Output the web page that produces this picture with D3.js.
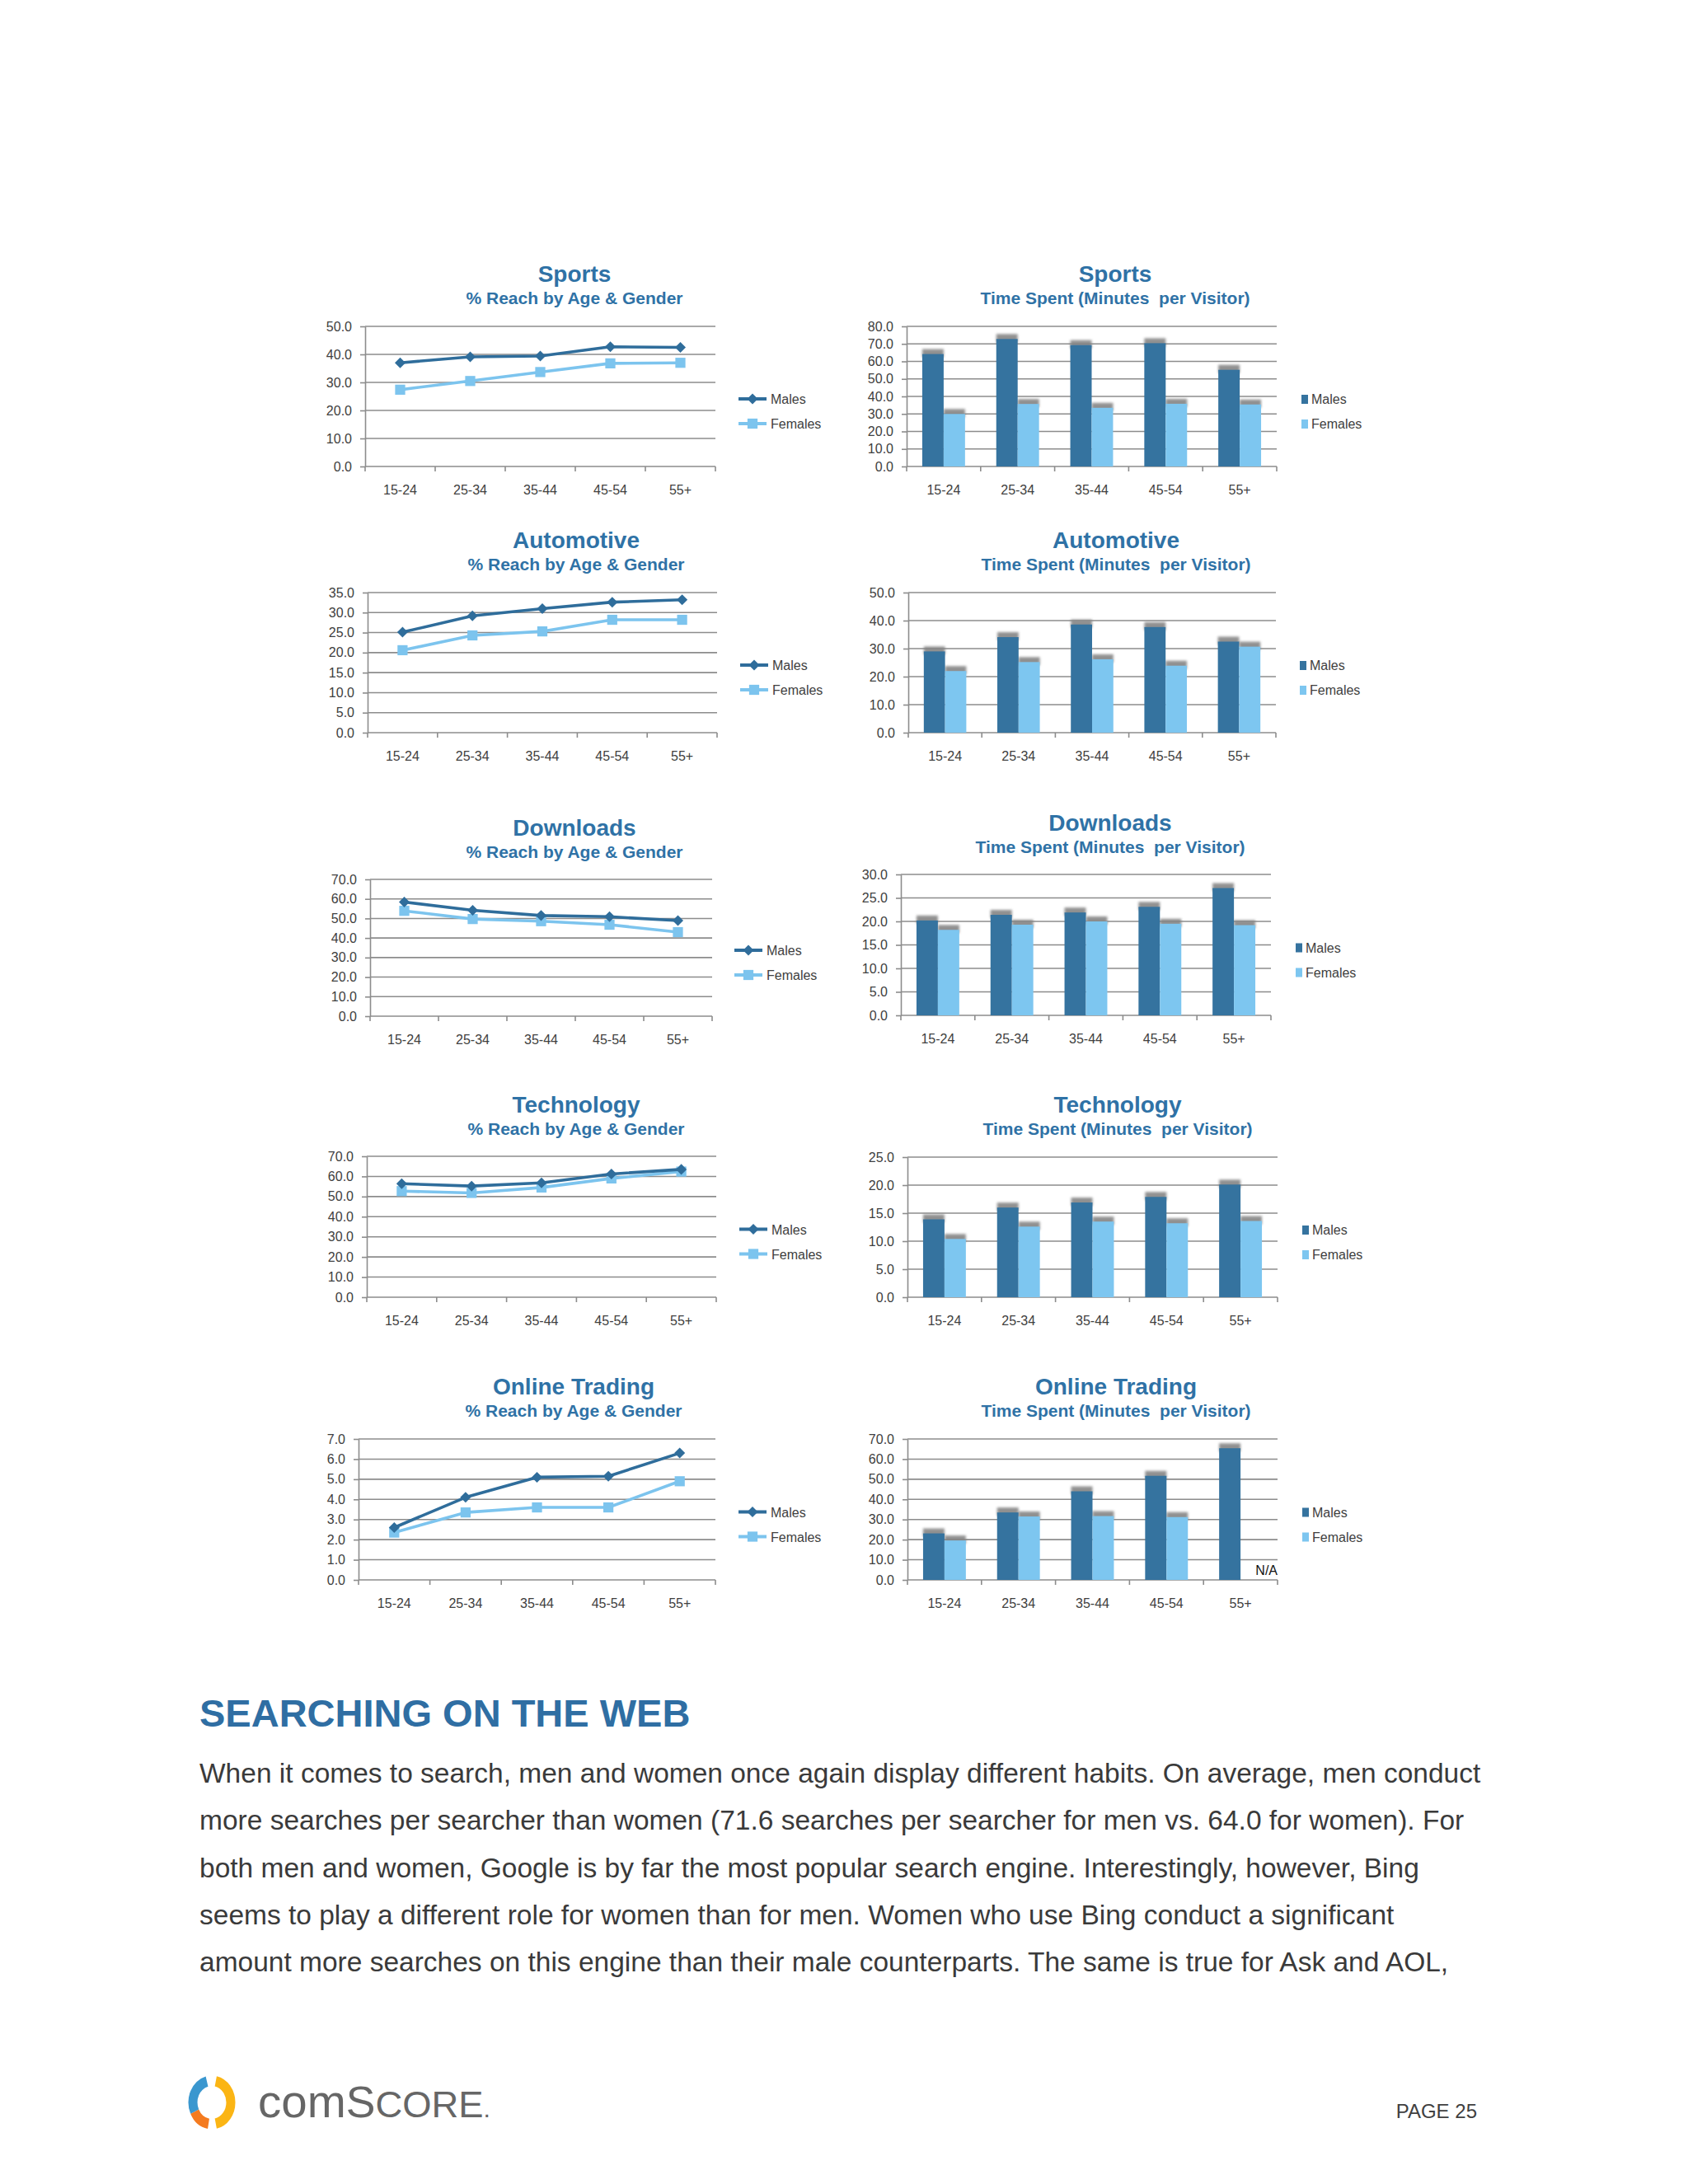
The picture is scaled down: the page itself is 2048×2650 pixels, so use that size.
<html>
<head>
<meta charset="utf-8">
<style>
  body { margin: 0; background: #fff; }
  text { font-family: "Liberation Sans", Arial, sans-serif; }
</style>
</head>
<body>
<script src="https://d3js.org/d3.v7.min.js" charset="utf-8"></script>
<script type="text/javascript">

// categories
var ageGroups = ["15-24", "25-34", "35-44", "45-54", "55+"];
var seriesNames = ["Males", "Females"];
var categoryTitles = ["Sports", "Automotive", "Downloads", "Technology", "Online Trading"];
var reachSubtitle = "% Reach by Age & Gender";
var timeSubtitle = "Time Spent (Minutes  per Visitor)";

// % reach by age & gender
var sportsReachMales      = [37.0, 39.1, 39.4, 42.7, 42.5];
var sportsReachFemales    = [27.4, 30.5, 33.7, 36.8, 37.0];
var autoReachMales        = [25.1, 29.2, 31.0, 32.6, 33.2];
var autoReachFemales      = [20.6, 24.3, 25.3, 28.2, 28.2];
var downloadsReachMales   = [58.4, 54.2, 51.5, 50.9, 48.9];
var downloadsReachFemales = [53.9, 49.7, 48.6, 46.8, 43.0];
var techReachMales        = [56.4, 55.2, 56.8, 61.2, 63.5];
var techReachFemales      = [52.7, 51.8, 54.5, 59.0, 62.4];
var tradingReachMales     = [2.6, 4.1, 5.1, 5.15, 6.3];
var tradingReachFemales   = [2.35, 3.35, 3.6, 3.6, 4.9];

// time spent (minutes per visitor)
var sportsTimeMales      = [64.2, 72.8, 69.3, 70.4, 55.2];
var sportsTimeFemales    = [30.0, 35.7, 33.5, 35.8, 35.4];
var autoTimeMales        = [29.0, 34.1, 38.6, 37.7, 32.5];
var autoTimeFemales      = [22.0, 25.2, 26.2, 23.9, 30.7];
var downloadsTimeMales   = [20.2, 21.4, 21.9, 23.1, 27.1];
var downloadsTimeFemales = [18.2, 19.3, 20.0, 19.5, 19.2];
var techTimeMales        = [13.9, 16.0, 16.9, 17.9, 20.1];
var techTimeFemales      = [10.4, 12.6, 13.5, 13.2, 13.6];
var tradingTimeMales     = [23.1, 33.5, 44.0, 51.7, 65.4];
var tradingTimeFemales   = [19.6, 31.5, 31.7, 31.2, null];   // 55+ is N/A

// y tick values
var sportsReachTicks    = [0, 10, 20, 30, 40, 50];
var autoReachTicks      = [0, 5, 10, 15, 20, 25, 30, 35];
var downloadsReachTicks = [0, 10, 20, 30, 40, 50, 60, 70];
var techReachTicks      = [0, 10, 20, 30, 40, 50, 60, 70];
var tradingReachTicks   = [0, 1, 2, 3, 4, 5, 6, 7];
var sportsTimeTicks     = [0, 10, 20, 30, 40, 50, 60, 70, 80];
var autoTimeTicks       = [0, 10, 20, 30, 40, 50];
var downloadsTimeTicks  = [0, 5, 10, 15, 20, 25, 30];
var techTimeTicks       = [0, 5, 10, 15, 20, 25];
var tradingTimeTicks    = [0, 10, 20, 30, 40, 50, 60, 70];

// body text
var heading = "SEARCHING ON THE WEB";
var bodyLines = [
  "When it comes to search, men and women once again display different habits. On average, men conduct",
  "more searches per searcher than women (71.6 searches per searcher for men vs. 64.0 for women). For",
  "both men and women, Google is by far the most popular search engine. Interestingly, however, Bing",
  "seems to play a different role for women than for men. Women who use Bing conduct a significant",
  "amount more searches on this engine than their male counterparts. The same is true for Ask and AOL,"
];

// colours
var maleColor = "#2f6d9b", femaleColor = "#7cc4ee";
var maleBar = "#35739f", femaleBar = "#7dc6f0";
var titleColor = "#2f72a6", gridColor = "#8c8c8c", labelColor = "#404040";

// layout of each panel (positions only)
var reachCharts = [
  {m: sportsReachMales, f: sportsReachFemales, ticks: sportsReachTicks, l: 443, r: 868, t: 396, b: 566, tx: 697, ty: 342, lx: 896},
  {m: autoReachMales, f: autoReachFemales, ticks: autoReachTicks, l: 446, r: 870, t: 719, b: 889, tx: 699, ty: 665, lx: 898},
  {m: downloadsReachMales, f: downloadsReachFemales, ticks: downloadsReachTicks, l: 449, r: 864, t: 1067, b: 1233, tx: 697, ty: 1014, lx: 891},
  {m: techReachMales, f: techReachFemales, ticks: techReachTicks, l: 445, r: 869, t: 1403, b: 1574, tx: 699, ty: 1350, lx: 897},
  {m: tradingReachMales, f: tradingReachFemales, ticks: tradingReachTicks, l: 435, r: 868, t: 1746, b: 1917, tx: 696, ty: 1692, lx: 896}
];
var timeCharts = [
  {m: sportsTimeMales, f: sportsTimeFemales, ticks: sportsTimeTicks, l: 1100, r: 1549, t: 396, b: 566, tx: 1353, ty: 342, lx: 1579},
  {m: autoTimeMales, f: autoTimeFemales, ticks: autoTimeTicks, l: 1102, r: 1548, t: 719, b: 889, tx: 1354, ty: 665, lx: 1577},
  {m: downloadsTimeMales, f: downloadsTimeFemales, ticks: downloadsTimeTicks, l: 1093, r: 1542, t: 1061, b: 1232, tx: 1347, ty: 1008, lx: 1572},
  {m: techTimeMales, f: techTimeFemales, ticks: techTimeTicks, l: 1101, r: 1550, t: 1404, b: 1574, tx: 1356, ty: 1350, lx: 1580},
  {m: tradingTimeMales, f: tradingTimeFemales, ticks: tradingTimeTicks, l: 1101, r: 1550, t: 1746, b: 1917, tx: 1354, ty: 1692, lx: 1580}
];

// page
var svg = d3.select("body").append("svg")
    .attr("width", 2048)
    .attr("height", 2650)
    .style("background", "#fff");

var defs = svg.append("defs");
defs.append("filter").attr("id", "soft")
    .attr("x", "-20%").attr("y", "-50%").attr("width", "140%").attr("height", "200%")
  .append("feGaussianBlur").attr("stdDeviation", 1.8);

var fmt = d3.format(".1f");

function drawTitles(c, i, sub) {
  svg.append("text")
      .attr("x", c.tx).attr("y", c.ty)
      .attr("text-anchor", "middle")
      .attr("font-size", 28).attr("font-weight", "bold")
      .attr("fill", titleColor)
      .text(categoryTitles[i]);
  svg.append("text")
      .attr("x", c.tx).attr("y", c.ty + 27)
      .attr("text-anchor", "middle")
      .attr("font-size", 21).attr("font-weight", "bold")
      .attr("fill", titleColor)
      .style("white-space", "pre")
      .text(sub);
}

function drawFrame(c, x, y) {
  // gridlines
  svg.append("g").selectAll("line")
      .data(c.ticks.filter(function(d) { return d > 0; }))
      .enter().append("line")
      .attr("x1", c.l).attr("x2", c.r)
      .attr("y1", function(d) { return y(d); })
      .attr("y2", function(d) { return y(d); })
      .attr("stroke", gridColor).attr("stroke-width", 1.6);

  // y axis
  var ya = svg.append("g")
      .attr("transform", "translate(" + c.l + ",0)")
      .call(d3.axisLeft(y).tickValues(c.ticks).tickFormat(fmt).tickSize(6).tickSizeOuter(0).tickPadding(10));
  ya.select(".domain").attr("stroke", gridColor).attr("stroke-width", 1.6);
  ya.selectAll(".tick line").attr("stroke", gridColor).attr("stroke-width", 1.6);
  ya.selectAll(".tick text").attr("font-size", 16).attr("fill", labelColor)
      .attr("font-family", "Liberation Sans, Arial, sans-serif");

  // x axis: base line, boundary ticks, centred labels
  svg.append("line")
      .attr("x1", c.l).attr("x2", c.r).attr("y1", c.b).attr("y2", c.b)
      .attr("stroke", gridColor).attr("stroke-width", 1.6);
  svg.append("g").selectAll("line")
      .data(d3.range(ageGroups.length + 1))
      .enter().append("line")
      .attr("x1", function(d) { return c.l + d * x.step(); })
      .attr("x2", function(d) { return c.l + d * x.step(); })
      .attr("y1", c.b).attr("y2", c.b + 6)
      .attr("stroke", gridColor).attr("stroke-width", 1.6);
  svg.append("g").selectAll("text")
      .data(ageGroups)
      .enter().append("text")
      .attr("x", function(d) { return x(d) + x.bandwidth() / 2; })
      .attr("y", c.b + 34)
      .attr("text-anchor", "middle")
      .attr("font-size", 16).attr("fill", labelColor)
      .text(function(d) { return d; });
}

// line charts
reachCharts.forEach(function(c, i) {
  drawTitles(c, i, reachSubtitle);

  var x = d3.scaleBand().domain(ageGroups).range([c.l, c.r]);
  var y = d3.scaleLinear().domain([0, d3.max(c.ticks)]).range([c.b, c.t]);
  drawFrame(c, x, y);

  var cx = function(d, j) { return x(ageGroups[j]) + x.bandwidth() / 2; };
  var line = d3.line().x(cx).y(function(d) { return y(d); });

  var series = [
    {vals: c.f, color: femaleColor, sym: d3.symbol(d3.symbolSquare, 150), rot: 0},
    {vals: c.m, color: maleColor, sym: d3.symbol(d3.symbolSquare, 85), rot: 45}
  ];
  series.forEach(function(s) {
    svg.append("path")
        .datum(s.vals)
        .attr("d", line)
        .attr("fill", "none")
        .attr("stroke", s.color)
        .attr("stroke-width", 3.6)
        .attr("stroke-linejoin", "round");
    svg.append("g").selectAll("path")
        .data(s.vals)
        .enter().append("path")
        .attr("d", s.sym)
        .attr("transform", function(d, j) { return "translate(" + cx(d, j) + "," + y(d) + ") rotate(" + s.rot + ")"; })
        .attr("fill", s.color);
  });

  // legend
  var mid = (c.t + c.b) / 2;
  [{n: seriesNames[0], color: maleColor, sym: d3.symbol(d3.symbolSquare, 85), rot: 45, yy: mid + 3},
   {n: seriesNames[1], color: femaleColor, sym: d3.symbol(d3.symbolSquare, 150), rot: 0, yy: mid + 33}]
    .forEach(function(e) {
      svg.append("line")
          .attr("x1", c.lx).attr("x2", c.lx + 34).attr("y1", e.yy).attr("y2", e.yy)
          .attr("stroke", e.color).attr("stroke-width", 4);
      svg.append("path")
          .attr("d", e.sym)
          .attr("transform", "translate(" + (c.lx + 17) + "," + e.yy + ") rotate(" + e.rot + ")")
          .attr("fill", e.color);
      svg.append("text")
          .attr("x", c.lx + 39).attr("y", e.yy + 6)
          .attr("font-size", 16).attr("fill", labelColor)
          .text(e.n);
    });
});

// bar charts
timeCharts.forEach(function(c, i) {
  drawTitles(c, i, timeSubtitle);

  var x = d3.scaleBand().domain(ageGroups).range([c.l, c.r]);
  var x1 = d3.scaleBand().domain(seriesNames).range([0, x.bandwidth()]).paddingOuter(0.73);
  var y = d3.scaleLinear().domain([0, d3.max(c.ticks)]).range([c.b, c.t]);
  drawFrame(c, x, y);

  var rows = ageGroups.map(function(a, j) {
    return [{age: a, s: "Males", v: c.m[j]}, {age: a, s: "Females", v: c.f[j]}];
  });
  var bars = d3.merge(rows).filter(function(d) { return d.v != null; });

  // soft grey shadow on top of each bar
  svg.append("g").selectAll("rect")
      .data(bars)
      .enter().append("rect")
      .attr("x", function(d) { return x(d.age) + x1(d.s); })
      .attr("width", x1.bandwidth())
      .attr("y", function(d) { return y(d.v) - 6; })
      .attr("height", 10)
      .attr("fill", "#858585")
      .attr("opacity", 0.9)
      .attr("filter", "url(#soft)");

  svg.append("g").selectAll("rect")
      .data(bars)
      .enter().append("rect")
      .attr("x", function(d) { return x(d.age) + x1(d.s); })
      .attr("width", x1.bandwidth())
      .attr("y", function(d) { return y(d.v); })
      .attr("height", function(d) { return c.b - y(d.v); })
      .attr("fill", function(d) { return d.s === "Males" ? maleBar : femaleBar; });

  // N/A marker for missing value
  if (c.f.indexOf(null) >= 0) {
    svg.append("text")
        .attr("x", c.r).attr("y", c.b - 6)
        .attr("text-anchor", "end")
        .attr("font-size", 16).attr("fill", "#111")
        .text("N/A");
  }

  // legend
  var mid = (c.t + c.b) / 2;
  [{n: seriesNames[0], color: maleBar, yy: mid + 3},
   {n: seriesNames[1], color: femaleBar, yy: mid + 33}]
    .forEach(function(e) {
      svg.append("rect")
          .attr("x", c.lx).attr("y", e.yy - 5)
          .attr("width", 8).attr("height", 11)
          .attr("fill", e.color);
      svg.append("text")
          .attr("x", c.lx + 12).attr("y", e.yy + 6)
          .attr("font-size", 16).attr("fill", labelColor)
          .text(e.n);
    });
});

// section heading and paragraph
svg.append("text")
    .attr("x", 242).attr("y", 2095)
    .attr("font-size", 47).attr("font-weight", "bold")
    .attr("fill", "#2f6ea3")
    .text(heading);

svg.append("g").selectAll("text")
    .data(bodyLines)
    .enter().append("text")
    .attr("x", 242)
    .attr("y", function(d, i) { return 2163 + i * 57.3; })
    .attr("font-size", 33.5)
    .attr("fill", "#3a3a3a")
    .text(function(d) { return d; });

// footer: logo mark
var logo = svg.append("g").attr("transform", "translate(257,2551) scale(0.92,1.05)");
var arc = d3.arc().innerRadius(19).outerRadius(31);
[{a0: 12, a1: 168, c: "#fbb514"},
 {a0: 190, a1: 245, c: "#f47b20"},
 {a0: 245, a1: 345, c: "#3a97cf"}].forEach(function(p) {
  logo.append("path")
      .attr("d", arc({startAngle: p.a0 * Math.PI / 180, endAngle: p.a1 * Math.PI / 180}))
      .attr("fill", p.c);
});

var brand = svg.append("text")
    .attr("x", 313).attr("y", 2569)
    .attr("fill", "#666")
    .attr("font-family", "Lato, 'Open Sans', sans-serif")
    .attr("textLength", 282)
    .attr("lengthAdjust", "spacingAndGlyphs");
brand.append("tspan").attr("font-size", 56).text("com");
brand.append("tspan").attr("font-size", 53).text("S");
brand.append("tspan").attr("font-size", 45).text("CORE");
brand.append("tspan").attr("font-size", 30).text(".");

svg.append("text")
    .attr("x", 1792).attr("y", 2570)
    .attr("text-anchor", "end")
    .attr("font-size", 24)
    .attr("fill", "#404040")
    .text("PAGE 25");

</script>
</body>
</html>
